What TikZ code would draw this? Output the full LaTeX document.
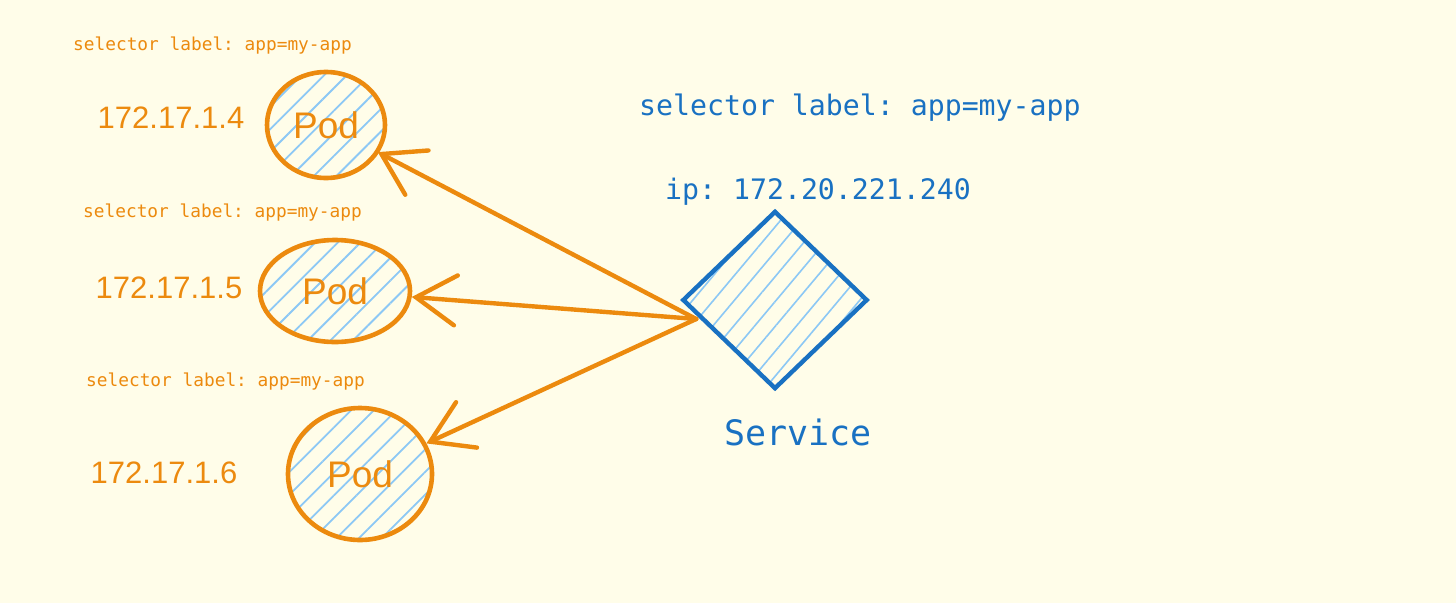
\documentclass[tikz,border=0pt]{standalone}
\usepackage{fontspec}
\setmainfont{Liberation Sans}
\setmonofont{DejaVu Sans Mono}
\usetikzlibrary{shapes.geometric,arrows.meta,patterns.meta}
\definecolor{bgc}{HTML}{FFFDE9}
\definecolor{org}{HTML}{EC8A0E}
\definecolor{blu}{HTML}{1971C2}
\definecolor{hat}{HTML}{8CC8F5}
\begin{document}
\begin{tikzpicture}[x=1pt,y=-1pt,
  podbox/.style={ellipse, draw=org, line width=4.6pt, inner sep=0pt,
    pattern={Lines[angle=45,distance=16pt,line width=1.8pt]}, pattern color=hat,
    font=\fontsize{37}{40}\selectfont, text=org},
  ipo/.style={font=\fontsize{31}{34}\selectfont, text=org},
  sello/.style={anchor=west, font=\ttfamily\fontsize{17.8}{20}\selectfont, text=org, inner sep=0pt},
  blutxt/.style={anchor=west, font=\ttfamily\fontsize{28.2}{30}\selectfont, text=blu, inner sep=0pt},
  svcbox/.style={diamond, draw=blu, line width=4.4pt, inner sep=0pt,
    minimum width=184pt, minimum height=177pt,
    pattern={Lines[angle=50,distance=16pt,line width=1.6pt]}, pattern color=hat},
  conn/.style={draw=org, line width=4.4pt, line cap=round,
    -{Straight Barb[length=40pt,width=50pt,line cap=round]}}
]
\fill[bgc] (0,0) rectangle (1456,603);
\useasboundingbox (0,0) rectangle (1456,603);

% pods
\node[podbox, minimum width=118pt, minimum height=106pt] (pod1) at (326,125) {Pod};
\node[podbox, minimum width=150pt, minimum height=102pt] (pod2) at (335,291) {Pod};
\node[podbox, minimum width=144pt, minimum height=132pt] (pod3) at (360,474) {Pod};

% pod labels
\node[sello] (sel1) at (73,46) {selector label: app=my-app};
\node[sello] (sel2) at (83,213) {selector label: app=my-app};
\node[sello] (sel3) at (86,382) {selector label: app=my-app};
\node[ipo] (ip1) at (171,118) {172.17.1.4};
\node[ipo] (ip2) at (169,288) {172.17.1.5};
\node[ipo] (ip3) at (164,473) {172.17.1.6};

% service
\node[svcbox] (svc) at (775,300) {};
\node[blutxt] (ssel) at (639,108) {selector label: app=my-app};
\node[blutxt] (sip) at (665,192) {ip: 172.20.221.240};
\node[anchor=center, font=\ttfamily\fontsize{35}{38}\selectfont, text=blu, inner sep=0pt] (sname) at (798,432) {Service};

% connectors
\coordinate (src) at ([shift={(14,19)}]svc.west);
\draw[conn] (src) -- (pod1);
\draw[conn] (src) -- (pod2);
\draw[conn] (src) -- (pod3);
\end{tikzpicture}
\end{document}
